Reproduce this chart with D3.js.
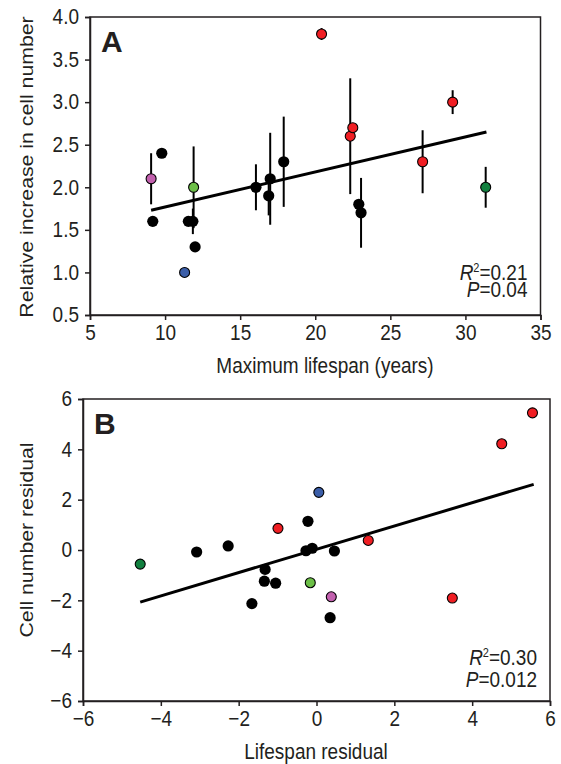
<!DOCTYPE html>
<html>

<head>
    <meta charset="utf-8">
    <style>
        body {
            margin: 0;
            background: #fff;
        }

        svg text {
            font-family: "Liberation Sans", Arial, Helvetica, sans-serif;
            fill: #231f20;
        }
    </style>
    <script src="https://d3js.org/d3.v7.min.js"></script>
</head>

<body>
    <svg width="561" height="764"></svg>

    <script>
        // Panel A: lifespan vs relative increase in cell number
        var lifespanA = [9.07, 9.78, 9.18, 11.55, 11.85, 11.9, 12.0, 11.3, 16.05, 17.0, 16.9, 17.9,
            20.42, 22.33, 22.5, 22.9, 23.05, 27.15, 29.15, 31.35];
        var cellA = [2.1, 2.4, 1.6, 1.6, 1.6, 2.0, 1.3, 1.0, 2.0, 2.1, 1.9, 2.3,
            3.8, 2.6, 2.7, 1.8, 1.7, 2.3, 3.0, 2.0];
        var errA = [0.3, 0, 0, 0, 0.15, 0.48, 0, 0, 0.27, 0.54, 0.23, 0.53,
            0.07, 0.68, 0, 0, 0.41, 0.37, 0.14, 0.24];
        var groupA = ["pink", "black", "black", "black", "black", "green", "black", "blue", "black", "black", "black", "black",
            "red", "red", "red", "black", "black", "red", "red", "dkgreen"];
        var fitAx = [9.07, 31.4];
        var fitAy = [1.73, 2.65];
        var ticksAx = [5, 10, 15, 20, 25, 30, 35];
        var ticksAy = [0.5, 1.0, 1.5, 2.0, 2.5, 3.0, 3.5, 4.0];

        // Panel B: residuals
        var residX = [-4.53, -3.08, -2.27, -0.99, -0.22, -1.32, -1.34, -1.05, -1.66, -0.16, -0.27, -0.11,
            0.06, 0.46, 1.33, 0.38, 0.35, 3.49, 4.76, 5.55];
        var residY = [-0.56, -0.08, 0.16, 0.86, 1.14, -0.77, -1.24, -1.32, -2.13, -1.30, -0.03, 0.07,
            2.29, -0.04, 0.38, -1.86, -2.69, -1.91, 4.22, 5.45];
        var groupB = ["dkgreen", "black", "black", "red", "black", "black", "black", "black", "black", "green", "black", "black",
            "blue", "black", "red", "pink", "black", "red", "red", "red"];
        var fitBx = [-4.53, 5.58];
        var fitBy = [-2.07, 2.61];
        var ticksB = [-6, -4, -2, 0, 2, 4, 6];

        var colors = {
            black: "#000000",
            red: "#f01e23",
            pink: "#c260ae",
            green: "#6cbf47",
            blue: "#3b5ea8",
            dkgreen: "#11803f"
        };

        var svg = d3.select("svg");
        var ink = "#231f20";
        var stretch = 1.12; // text in the figure is a bit taller than plain Arial

        // horizontal text placed at (x, y), slightly stretched vertically
        function label(g, x, y, txt, size, anchor) {
            return g.append("text")
                .attr("transform", "translate(" + x + "," + y + ") scale(1," + stretch + ")")
                .attr("text-anchor", anchor || "start")
                .style("font-size", size + "px")
                .text(txt);
        }

        function drawPanel(opt) {
            var x = d3.scaleLinear().domain(opt.xDomain).range([opt.left, opt.right]);
            var y = d3.scaleLinear().domain(opt.yDomain).range([opt.bottom, opt.top]);
            var g = svg.append("g");

            // box
            g.append("rect")
                .attr("x", opt.left).attr("y", opt.top)
                .attr("width", opt.right - opt.left).attr("height", opt.bottom - opt.top)
                .attr("fill", "none").attr("stroke", ink).attr("stroke-width", 1.5);

            var xAxis = g.append("g")
                .attr("transform", "translate(0," + opt.bottom + ")")
                .call(d3.axisBottom(x).tickValues(opt.xTicks).tickSize(5).tickPadding(4).tickFormat(opt.xFmt));
            var yAxis = g.append("g")
                .attr("transform", "translate(" + opt.left + ",0)")
                .call(d3.axisLeft(y).tickValues(opt.yTicks).tickSize(5).tickPadding(6).tickFormat(opt.yFmt));
            [xAxis, yAxis].forEach(function (a) {
                a.select(".domain").attr("stroke", ink).attr("stroke-width", 1.5);
                a.selectAll(".tick line").attr("stroke", ink).attr("stroke-width", 1.5);
                a.selectAll(".tick text")
                    .style("font-size", "19px").attr("fill", ink)
                    .attr("transform", "scale(1," + stretch + ")");
            });

            // error bars
            if (opt.err) {
                g.selectAll(".err")
                    .data(opt.xs.map(function (v, i) { return i; }).filter(function (i) { return opt.err[i] > 0; }))
                    .enter().append("line")
                    .attr("x1", function (i) { return x(opt.xs[i]); })
                    .attr("x2", function (i) { return x(opt.xs[i]); })
                    .attr("y1", function (i) { return y(opt.ys[i] - opt.err[i]); })
                    .attr("y2", function (i) { return y(opt.ys[i] + opt.err[i]); })
                    .attr("stroke", "#000").attr("stroke-width", 2);
            }

            // regression line
            g.append("line")
                .attr("x1", x(opt.fitX[0])).attr("y1", y(opt.fitY[0]))
                .attr("x2", x(opt.fitX[1])).attr("y2", y(opt.fitY[1]))
                .attr("stroke", "#000").attr("stroke-width", 3);

            // points
            g.selectAll(".pt")
                .data(opt.xs.map(function (v, i) { return i; }))
                .enter().append("circle")
                .attr("cx", function (i) { return x(opt.xs[i]); })
                .attr("cy", function (i) { return y(opt.ys[i]); })
                .attr("r", function (i) { return opt.groups[i] == "black" ? 5.6 : 5; })
                .attr("fill", function (i) { return colors[opt.groups[i]]; })
                .attr("stroke", "#000")
                .attr("stroke-width", function (i) { return opt.groups[i] == "black" ? 0 : 1.1; });

            // panel letter
            g.append("text")
                .attr("x", opt.left + 11).attr("y", opt.top + 35)
                .style("font-size", "30px").style("font-weight", "bold")
                .text(opt.letter);

            // stats
            var st = label(g, opt.right - 13, opt.statY[0], "", 19, "end");
            st.append("tspan").style("font-style", "italic").text("R");
            st.append("tspan").attr("dy", -7).style("font-size", "11px").text("2");
            st.append("tspan").attr("dy", 7).text("=" + opt.r2);
            var sp = label(g, opt.right - 13, opt.statY[1], "", 19, "end");
            sp.append("tspan").style("font-style", "italic").text("P");
            sp.append("tspan").text("=" + opt.p);

            // axis titles
            label(g, opt.xTitleX, opt.xTitleY, opt.xTitle, 19, "middle");
            g.append("text")
                .attr("transform", "translate(33," + opt.yTitleY + ") rotate(-90) scale(" + stretch + ",1)")
                .attr("text-anchor", "middle").style("font-size", "19px")
                .text(opt.yTitle);
        }

        drawPanel({
            left: 90, right: 540.5, top: 17, bottom: 315,
            xDomain: [5, 35], yDomain: [0.5, 4.0],
            xTicks: ticksAx, yTicks: ticksAy,
            xFmt: d3.format("d"), yFmt: d3.format(".1f"),
            xs: lifespanA, ys: cellA, err: errA, groups: groupA,
            fitX: fitAx, fitY: fitAy,
            letter: "A", r2: "0.21", p: "0.04", statY: [280, 297],
            xTitle: "Maximum lifespan (years)", xTitleX: 325, xTitleY: 373,
            yTitle: "Relative increase in cell number", yTitleY: 167
        });

        drawPanel({
            left: 83, right: 550, top: 399, bottom: 701,
            xDomain: [-6, 6], yDomain: [-6, 6],
            xTicks: ticksB, yTicks: ticksB,
            xFmt: d3.format("d"), yFmt: d3.format("d"),
            xs: residX, ys: residY, err: null, groups: groupB,
            fitX: fitBx, fitY: fitBy,
            letter: "B", r2: "0.30", p: "0.012", statY: [665, 687],
            xTitle: "Lifespan residual", xTitleX: 316, xTitleY: 759,
            yTitle: "Cell number residual", yTitleY: 540
        });
    </script>

</body>

</html>
